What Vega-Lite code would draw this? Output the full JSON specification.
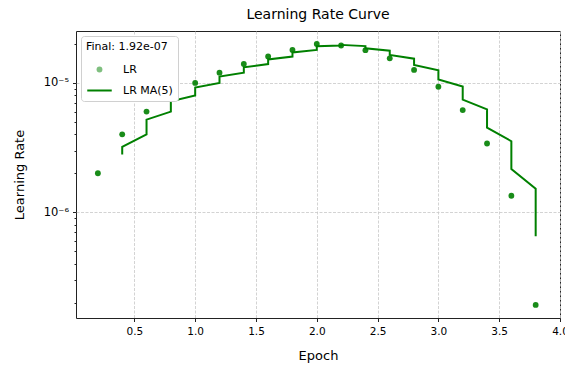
{
  "$schema": "https://vega.github.io/schema/vega-lite/v6.json",
  "autosize": {"type": "none"},
  "width": 484,
  "height": 287,
  "padding": {"left": 76, "top": 31, "right": 5, "bottom": 48},
  "background": "white",
  "title": {
    "text": "Learning Rate Curve",
    "font": "DejaVu Sans",
    "fontSize": 14,
    "fontWeight": "normal",
    "color": "#000",
    "offset": 9
  },
  "config": {
    "font": "DejaVu Sans",
    "view": {"stroke": "#222", "strokeWidth": 1},
    "axis": {
      "labelFont": "DejaVu Sans",
      "labelFontSize": 10.5,
      "labelColor": "#000",
      "titleFont": "DejaVu Sans",
      "titleFontSize": 13,
      "titleFontWeight": "normal",
      "titleColor": "#000",
      "domain": false,
      "tickColor": "#222",
      "gridColor": "#c8c8c8",
      "gridDash": [3, 1.5],
      "gridWidth": 0.8
    }
  },
  "datasets": {
    "lr": [
      {"epoch": 0.2, "lr": 2.0e-6},
      {"epoch": 0.4, "lr": 4.0e-6},
      {"epoch": 0.6, "lr": 6.0e-6},
      {"epoch": 0.8, "lr": 8.0e-6},
      {"epoch": 1.0, "lr": 1.0e-5},
      {"epoch": 1.2, "lr": 1.2e-5},
      {"epoch": 1.4, "lr": 1.4e-5},
      {"epoch": 1.6, "lr": 1.6e-5},
      {"epoch": 1.8, "lr": 1.8e-5},
      {"epoch": 2.0, "lr": 2.0e-5},
      {"epoch": 2.2, "lr": 1.947e-5},
      {"epoch": 2.4, "lr": 1.79e-5},
      {"epoch": 2.6, "lr": 1.55e-5},
      {"epoch": 2.8, "lr": 1.26e-5},
      {"epoch": 3.0, "lr": 9.34e-6},
      {"epoch": 3.2, "lr": 6.16e-6},
      {"epoch": 3.4, "lr": 3.40e-6},
      {"epoch": 3.6, "lr": 1.34e-6},
      {"epoch": 3.8, "lr": 1.92e-7}
    ],
    "ma": [
      {"i": 4, "epoch": 0.4, "ma": 2.8e-6},
      {"i": 5, "epoch": 0.4, "ma": 3.2e-6},
      {"i": 6, "epoch": 0.6, "ma": 4.0e-6},
      {"i": 7, "epoch": 0.6, "ma": 4.8e-6},
      {"i": 8, "epoch": 0.6, "ma": 5.2e-6},
      {"i": 9, "epoch": 0.8, "ma": 6.0e-6},
      {"i": 10, "epoch": 0.8, "ma": 6.8e-6},
      {"i": 11, "epoch": 0.8, "ma": 7.2e-6},
      {"i": 12, "epoch": 1.0, "ma": 8.0e-6},
      {"i": 13, "epoch": 1.0, "ma": 8.8e-6},
      {"i": 14, "epoch": 1.0, "ma": 9.2e-6},
      {"i": 15, "epoch": 1.2, "ma": 1.0e-5},
      {"i": 16, "epoch": 1.2, "ma": 1.08e-5},
      {"i": 17, "epoch": 1.2, "ma": 1.12e-5},
      {"i": 18, "epoch": 1.4, "ma": 1.2e-5},
      {"i": 19, "epoch": 1.4, "ma": 1.28e-5},
      {"i": 20, "epoch": 1.4, "ma": 1.32e-5},
      {"i": 21, "epoch": 1.6, "ma": 1.4e-5},
      {"i": 22, "epoch": 1.6, "ma": 1.48e-5},
      {"i": 23, "epoch": 1.6, "ma": 1.52e-5},
      {"i": 24, "epoch": 1.8, "ma": 1.6e-5},
      {"i": 25, "epoch": 1.8, "ma": 1.68e-5},
      {"i": 26, "epoch": 1.8, "ma": 1.72e-5},
      {"i": 27, "epoch": 2.0, "ma": 1.8e-5},
      {"i": 28, "epoch": 2.0, "ma": 1.88e-5},
      {"i": 29, "epoch": 2.0, "ma": 1.92e-5},
      {"i": 30, "epoch": 2.2, "ma": 1.949e-5},
      {"i": 31, "epoch": 2.2, "ma": 1.979e-5},
      {"i": 32, "epoch": 2.2, "ma": 1.968e-5},
      {"i": 33, "epoch": 2.4, "ma": 1.926e-5},
      {"i": 34, "epoch": 2.4, "ma": 1.884e-5},
      {"i": 35, "epoch": 2.4, "ma": 1.853e-5},
      {"i": 36, "epoch": 2.6, "ma": 1.773e-5},
      {"i": 37, "epoch": 2.6, "ma": 1.694e-5},
      {"i": 38, "epoch": 2.6, "ma": 1.646e-5},
      {"i": 39, "epoch": 2.8, "ma": 1.540e-5},
      {"i": 40, "epoch": 2.8, "ma": 1.434e-5},
      {"i": 41, "epoch": 2.8, "ma": 1.376e-5},
      {"i": 42, "epoch": 3.0, "ma": 1.253e-5},
      {"i": 43, "epoch": 3.0, "ma": 1.130e-5},
      {"i": 44, "epoch": 3.0, "ma": 1.064e-5},
      {"i": 45, "epoch": 3.2, "ma": 9.36e-6},
      {"i": 46, "epoch": 3.2, "ma": 8.07e-6},
      {"i": 47, "epoch": 3.2, "ma": 7.43e-6},
      {"i": 48, "epoch": 3.4, "ma": 6.24e-6},
      {"i": 49, "epoch": 3.4, "ma": 5.06e-6},
      {"i": 50, "epoch": 3.4, "ma": 4.50e-6},
      {"i": 51, "epoch": 3.6, "ma": 3.54e-6},
      {"i": 52, "epoch": 3.6, "ma": 2.58e-6},
      {"i": 53, "epoch": 3.6, "ma": 2.16e-6},
      {"i": 54, "epoch": 3.8, "ma": 1.52e-6},
      {"i": 55, "epoch": 3.8, "ma": 8.81e-7},
      {"i": 56, "epoch": 3.8, "ma": 6.51e-7}
    ]
  },
  "encoding": {
    "x": {
      "type": "quantitative",
      "scale": {"domain": [0.02, 4.0], "nice": false, "zero": false},
      "axis": {
        "title": "Epoch",
        "values": [0.5, 1.0, 1.5, 2.0, 2.5, 3.0, 3.5, 4.0],
        "format": ".1f",
        "tickSize": 3.5,
        "labelPadding": 5,
        "titlePadding": 12,
        "labelFlush": false,
        "labelOverlap": false
      }
    },
    "y": {
      "type": "quantitative",
      "scale": {"type": "log", "domain": [1.52e-7, 2.52e-5], "nice": false},
      "axis": {
        "title": "Learning Rate",
        "values": [2e-7, 3e-7, 4e-7, 5e-7, 6e-7, 7e-7, 8e-7, 9e-7, 1e-6, 2e-6, 3e-6, 4e-6, 5e-6, 6e-6, 7e-6, 8e-6, 9e-6, 1e-5, 2e-5],
        "labelExpr": "datum.value == 1e-5 ? '10⁻⁵' : (datum.value == 1e-6 ? '10⁻⁶' : '')",
        "labelFontSize": 11.5,
        "tickSize": {"condition": {"test": "datum.value == 1e-5 || datum.value == 1e-6", "value": 3.5}, "value": 2},
        "gridOpacity": {"condition": {"test": "datum.value == 1e-5 || datum.value == 1e-6", "value": 1}, "value": 0},
        "labelPadding": 4,
        "titlePadding": 17,
        "labelFlush": false,
        "labelOverlap": false
      }
    }
  },
  "layer": [
    {
      "data": {"name": "lr"},
      "mark": {"type": "point", "filled": true, "size": 34, "opacity": 0.9},
      "encoding": {
        "x": {"field": "epoch", "type": "quantitative"},
        "y": {"field": "lr", "type": "quantitative"},
        "color": {"datum": "LR"}
      }
    },
    {
      "data": {"name": "ma"},
      "mark": {"type": "line", "strokeWidth": 2},
      "encoding": {
        "x": {"field": "epoch", "type": "quantitative"},
        "y": {"field": "ma", "type": "quantitative"},
        "order": {"field": "i", "type": "quantitative"},
        "color": {
          "datum": "LR MA(5)",
          "scale": {"domain": ["LR", "LR MA(5)"], "range": ["#008000", "#008000"]},
          "legend": {
            "title": "Final: 1.92e-07",
            "orient": "top-left",
            "offset": 5,
            "padding": 5,
            "strokeColor": "#d0d0d0",
            "fillColor": "white",
            "cornerRadius": 3,
            "titleFont": "DejaVu Sans",
            "titleFontSize": 11,
            "titleFontWeight": "normal",
            "titleColor": "#000",
            "titlePadding": 4,
            "labelFont": "DejaVu Sans",
            "labelFontSize": 11,
            "labelColor": "#000",
            "labelOffset": 10,
            "symbolSize": 100,
            "rowPadding": 2,
            "encode": {
              "symbols": {
                "update": {
                  "shape": {"signal": "datum.value === 'LR' ? 'circle' : 'stroke'"},
                  "size": {"signal": "datum.value === 'LR' ? 34 : 600"},
                  "fill": {"signal": "datum.value === 'LR' ? '#008000' : 'transparent'"},
                  "fillOpacity": {"value": 0.5},
                  "stroke": {"value": "#008000"},
                  "strokeOpacity": {"signal": "datum.value === 'LR' ? 0 : 1"},
                  "strokeWidth": {"value": 2},
                  "opacity": {"value": 1}
                }
              }
            }
          }
        }
      }
    }
  ]
}
